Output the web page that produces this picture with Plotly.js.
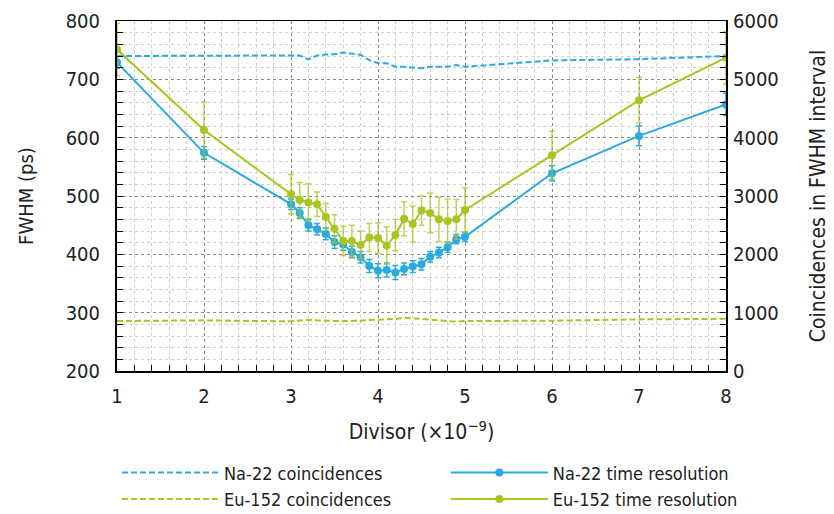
<!DOCTYPE html>
<html>
<head>
<meta charset="utf-8">
<script src="https://cdn.plot.ly/plotly-3.0.1.min.js"></script>
<style>html,body{margin:0;padding:0;background:#fff;} #chart{width:834px;height:514px;}</style>
</head>
<body>
<div id="chart"></div>
<script>
const divisor = [1, 2, 3, 3.1, 3.2, 3.3, 3.4, 3.5, 3.6, 3.7, 3.8, 3.9, 4, 4.1, 4.2, 4.3, 4.4, 4.5, 4.6, 4.7, 4.8, 4.9, 5, 6, 7, 8];
const naRes = [729, 574, 486, 471, 450, 443, 435, 421, 417, 404, 395, 380, 372, 373, 369, 375, 379, 383, 396, 403, 412, 426, 430, 539, 603, 657];
const naErr = [10, 11, 9, 9, 10, 10, 10, 11, 10, 10, 10, 11, 12, 12, 12, 10, 10, 10, 9, 9, 9, 8, 8, 13, 17, 19];
const euRes = [751, 613, 503, 493, 489, 486, 464, 444, 423, 423, 416, 429, 428, 415, 433, 461, 452, 475, 471, 460, 457, 460, 476, 570, 664, 737];
const euErr = [45, 48, 34, 30, 32, 21, 23, 24, 25, 27, 24, 24, 26, 32, 27, 29, 31, 25, 34, 38, 38, 34, 38, 41, 39, 45];
const naCoinc = [5400, 5405, 5415, 5410, 5340, 5410, 5425, 5430, 5460, 5445, 5420, 5330, 5275, 5275, 5215, 5215, 5205, 5190, 5215, 5215, 5215, 5245, 5215, 5325, 5345, 5400];
const euCoinc = [857, 868, 851, 868, 880, 868, 857, 857, 857, 857, 862, 874, 880, 874, 891, 914, 903, 891, 880, 857, 846, 846, 857, 862, 885, 895];

const BLUE = '#29abe2';
const GREEN = '#a8c520';
const FONT = 'DejaVu Sans Condensed, Liberation Sans Narrow, sans-serif';
const TXT = '#222';

const traces = [
  {x: divisor, y: naCoinc, yaxis: 'y2', mode: 'lines', name: 'Na-22 coincidences',
   line: {color: BLUE, width: 2, dash: '6px,3px'}, legend: 'legend'},
  {x: divisor, y: euCoinc, yaxis: 'y2', mode: 'lines', name: 'Eu-152 coincidences',
   line: {color: GREEN, width: 2, dash: '6px,3px'}, legend: 'legend'},
  {x: divisor, y: naRes, mode: 'lines+markers', name: 'Na-22 time resolution',
   line: {color: BLUE, width: 2}, marker: {color: BLUE, size: 8},
   error_y: {type: 'data', array: naErr, visible: true, color: BLUE, thickness: 1.5, width: 3},
   legend: 'legend2'},
  {x: divisor, y: euRes, mode: 'lines+markers', name: 'Eu-152 time resolution',
   line: {color: GREEN, width: 2}, marker: {color: GREEN, size: 8},
   error_y: {type: 'data', array: euErr, visible: true, color: 'rgba(168,197,32,0.75)', thickness: 1.5, width: 3},
   legend: 'legend2'}
];

const legendCommon = {
  orientation: 'v', xanchor: 'left', yanchor: 'top', yref: 'paper', xref: 'paper',
  font: {family: FONT, size: 18, color: TXT}, bgcolor: 'rgba(0,0,0,0)',
  itemwidth: 97, tracegroupgap: 0
};

const layout = {
  width: 834, height: 514,
  margin: {l: 117, r: 108, t: 21, b: 143, autoexpand: false},
  paper_bgcolor: '#fff', plot_bgcolor: '#fff',
  font: {family: FONT, size: 18, color: TXT},
  showlegend: true,
  xaxis: {
    range: [1, 8], dtick: 1, tick0: 1, ticks: 'inside', ticklen: 6, tickcolor: '#000',
    tickfont: {family: FONT, size: 20, color: TXT},
    showline: true, linecolor: '#000', linewidth: 1.5, mirror: true,
    showgrid: true, gridcolor: '#888', griddash: 'dot', gridwidth: 1,
    zeroline: false, ticklabelstandoff: 6, automargin: false,
    minor: {dtick: 0.2, ticks: 'inside', ticklen: 6, tickcolor: '#000', showgrid: true, gridcolor: '#cfcfcf', griddash: 'dot'},
    title: {text: 'Divisor (×10<sup>−9</sup>)', font: {family: FONT, size: 21, color: TXT}, standoff: 18}
  },
  yaxis: {
    range: [200, 800], dtick: 100, ticks: 'inside', ticklen: 6, tickcolor: '#000',
    tickfont: {family: FONT, size: 20, color: TXT},
    showline: true, linecolor: '#000', linewidth: 2,
    showgrid: true, gridcolor: '#888', griddash: 'dot', gridwidth: 1,
    zeroline: false, ticklabelstandoff: 11, automargin: false,
    minor: {dtick: 20, ticks: 'inside', ticklen: 6, tickcolor: '#000', showgrid: true, gridcolor: '#cfcfcf', griddash: 'dot'},
    title: {text: 'FWHM (ps)', font: {family: FONT, size: 20, color: TXT}, standoff: 27}
  },
  yaxis2: {
    overlaying: 'y', side: 'right', range: [0, 6000], dtick: 1000,
    ticks: 'inside', ticklen: 6, tickcolor: '#000',
    tickfont: {family: FONT, size: 20, color: TXT},
    showline: true, linecolor: '#000', linewidth: 2,
    showgrid: false, zeroline: false, ticklabelstandoff: 1, automargin: false,
    minor: {dtick: 200, ticks: 'inside', ticklen: 6, tickcolor: '#000', showgrid: false},
    title: {text: 'Coincidences in FWHM interval', font: {family: FONT, size: 21, color: TXT}, standoff: 33}
  },
  legend: Object.assign({}, legendCommon, {x: 0.0, y: -0.238}),
  legend2: Object.assign({}, legendCommon, {x: 0.54, y: -0.238})
};

Plotly.newPlot('chart', traces, layout, {staticPlot: true, displayModeBar: false});
</script>
</body>
</html>
